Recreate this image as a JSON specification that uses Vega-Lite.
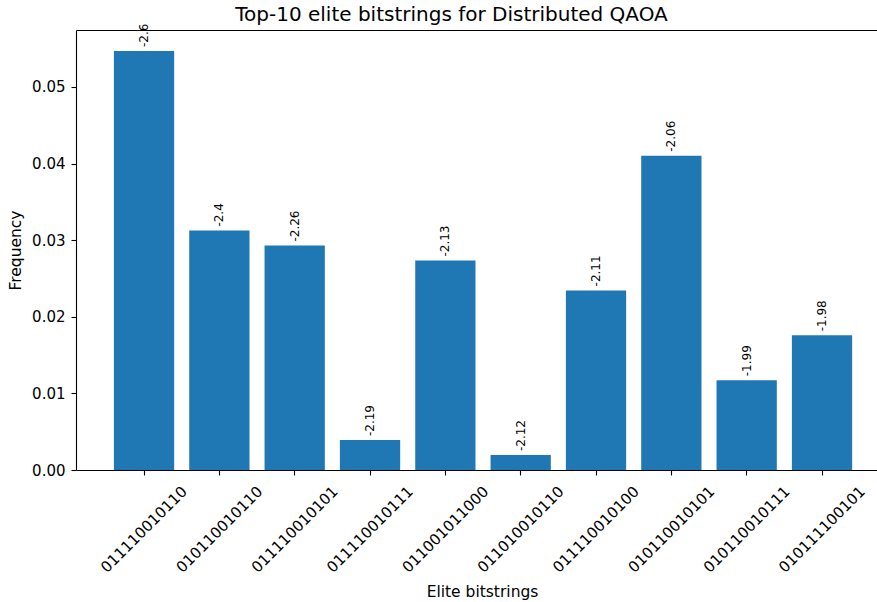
{
  "$schema": "https://vega.github.io/schema/vega-lite/v6.json",
  "width": 801,
  "height": 440,
  "autosize": {"type": "none"},
  "padding": {"left": 76, "top": 30, "right": 0, "bottom": 132},
  "title": {
    "text": "Top-10 elite bitstrings for Distributed QAOA",
    "font": "DejaVu Sans",
    "fontSize": 20,
    "fontWeight": "normal",
    "color": "#000000",
    "anchor": "middle",
    "frame": "group",
    "baseline": "alphabetic",
    "offset": 10,
    "dx": -25,
    "dy": 27
  },
  "config": {
    "view": {"stroke": null},
    "axis": {
      "grid": false,
      "domainColor": "#000000",
      "domainWidth": 1.1,
      "tickColor": "#000000",
      "tickWidth": 1.1,
      "tickSize": 5,
      "labelColor": "#000000",
      "labelFont": "DejaVu Sans",
      "labelFontSize": 15,
      "titleFont": "DejaVu Sans",
      "titleFontSize": 15.5,
      "titleFontWeight": "normal",
      "titleColor": "#000000"
    }
  },
  "data": {
    "values": [
      {"bitstring": "011110010110", "frequency": 0.05469, "label": "-2.6"},
      {"bitstring": "010110010110", "frequency": 0.03125, "label": "-2.4"},
      {"bitstring": "011110010101", "frequency": 0.02930, "label": "-2.26"},
      {"bitstring": "011110010111", "frequency": 0.00391, "label": "-2.19"},
      {"bitstring": "011001011000", "frequency": 0.02734, "label": "-2.13"},
      {"bitstring": "011010010110", "frequency": 0.00195, "label": "-2.12"},
      {"bitstring": "011110010100", "frequency": 0.02344, "label": "-2.11"},
      {"bitstring": "010110010101", "frequency": 0.04102, "label": "-2.06"},
      {"bitstring": "010110010111", "frequency": 0.01172, "label": "-1.99"},
      {"bitstring": "010111100101", "frequency": 0.01758, "label": "-1.98"}
    ]
  },
  "layer": [
    {
      "mark": {"type": "bar", "color": "#1f77b4"},
      "encoding": {
        "x": {
          "field": "bitstring",
          "type": "nominal",
          "sort": null,
          "scale": {"paddingInner": 0.2, "paddingOuter": 0.4165, "align": 0.604},
          "axis": {
            "orient": "bottom",
            "title": "Elite bitstrings",
            "labelAngle": -45,
            "labelAlign": "center",
            "labelBaseline": "middle",
            "labelPadding": 54,
            "titleX": 406,
            "titleY": 126,
            "titleBaseline": "alphabetic",
            "titleAnchor": "middle",
            "titleAlign": "center"
          }
        },
        "y": {
          "field": "frequency",
          "type": "quantitative",
          "scale": {"domain": [0, 0.05744], "nice": false, "zero": true},
          "axis": {
            "title": "Frequency",
            "values": [0, 0.01, 0.02, 0.03, 0.04, 0.05],
            "format": ".2f",
            "labelPadding": 6,
            "titlePadding": 8
          }
        }
      }
    },
    {
      "mark": {
        "type": "text",
        "angle": 270,
        "align": "left",
        "baseline": "middle",
        "dx": 4,
        "font": "DejaVu Sans",
        "fontSize": 12,
        "color": "#000000"
      },
      "encoding": {
        "x": {
          "field": "bitstring",
          "type": "nominal",
          "sort": null,
          "axis": {
            "orient": "top",
            "title": null,
            "labels": false,
            "ticks": false,
            "domain": true
          }
        },
        "y": {"field": "frequency", "type": "quantitative"},
        "text": {"field": "label"}
      }
    }
  ],
  "resolve": {"axis": {"x": "independent"}}
}
